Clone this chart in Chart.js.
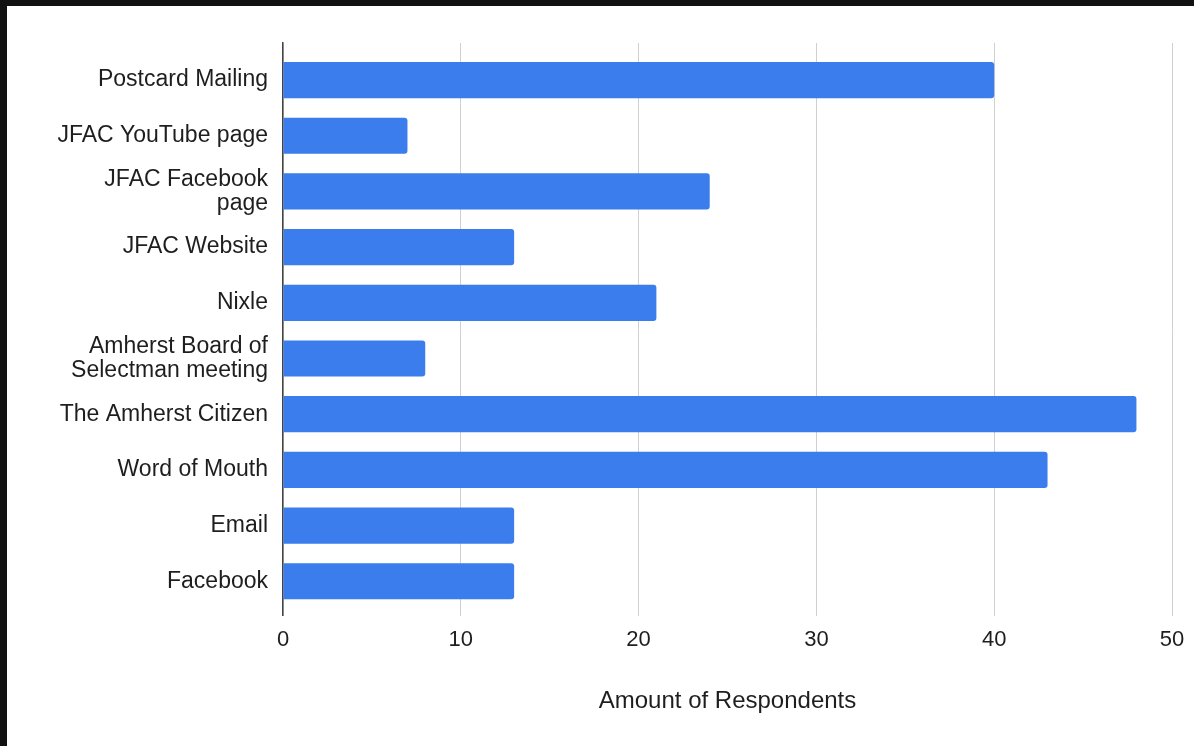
<!DOCTYPE html>
<html>
<head>
<meta charset="utf-8">
<script src="https://cdn.jsdelivr.net/npm/chart.js@4/dist/chart.umd.min.js"></script>
<style>
    html, body { margin: 0; padding: 0; background: #111; overflow: hidden; }
    #wrap { position: absolute; left: 7px; top: 6px; width: 1187px; height: 740px; background: #fff; }
</style>
</head>
<body>
<div id="wrap"><canvas id="chart"></canvas></div>
<script>
(function() {

// categories, top to bottom
const categories = [
    'Postcard Mailing',
    'JFAC YouTube page',
    ['JFAC Facebook', 'page'],
    'JFAC Website',
    'Nixle',
    ['Amherst Board of', 'Selectman meeting'],
    'The Amherst Citizen',
    'Word of Mouth',
    'Email',
    'Facebook'
];

const respondents = [40, 7, 24, 13, 21, 8, 48, 43, 13, 13];

const xTicks = [0, 10, 20, 30, 40, 50];

const fontFamily = '"Liberation Sans", Arial, sans-serif',
    textColor = '#1e1e1e';

const config = {
    type: 'bar',
    data: {
        datasets: [
            {
                label: 'Amount of Respondents',
                data: respondents.map((v, i) => ({x: v, y: i})),
                backgroundColor: '#3b7ded',
                borderRadius: 3,
                barPercentage: 0.65,
                categoryPercentage: 1
            }
        ]
    },
    options: {
        indexAxis: 'y',
        responsive: true,
        maintainAspectRatio: false,
        animation: false,
        layout: {
            padding: {top: 37, right: 0, bottom: 30, left: 0}
        },
        plugins: {
            legend: {display: false},
            tooltip: {enabled: false}
        },
        scales: {
            x: {
                type: 'linear',
                min: xTicks[0],
                max: xTicks[xTicks.length - 1],
                afterBuildTicks: scale => {
                    scale.ticks = xTicks.map(v => ({value: v}));
                },
                afterFit: scale => {
                    scale.paddingRight = 22;
                },
                grid: {
                    color: '#d0d0d0',
                    lineWidth: 1,
                    drawTicks: false
                },
                border: {display: false},
                ticks: {
                    padding: 11,
                    color: textColor,
                    font: {family: fontFamily, size: 22}
                },
                title: {
                    display: true,
                    text: 'Amount of Respondents',
                    color: textColor,
                    font: {family: fontFamily, size: 24},
                    padding: {top: 23, bottom: 0}
                }
            },
            y: {
                type: 'linear',
                offset: false,
                reverse: true,
                min: -0.665,
                max: 9.62,
                afterBuildTicks: scale => {
                    scale.ticks = categories.map((c, i) => ({value: i}));
                },
                afterFit: scale => {
                    scale.width = 276;
                },
                grid: {display: false, offset: false},
                border: {display: true, color: '#444', width: 1.5},
                ticks: {
                    padding: 7,
                    color: textColor,
                    font: {family: fontFamily, size: 23, lineHeight: 1.05},
                    callback: value => categories[value]
                }
            }
        }
    }
};

window.onload = function () {
    const ctx = document.getElementById('chart').getContext('2d');
    new Chart(ctx, config);
};

})();
</script>
</body>
</html>
